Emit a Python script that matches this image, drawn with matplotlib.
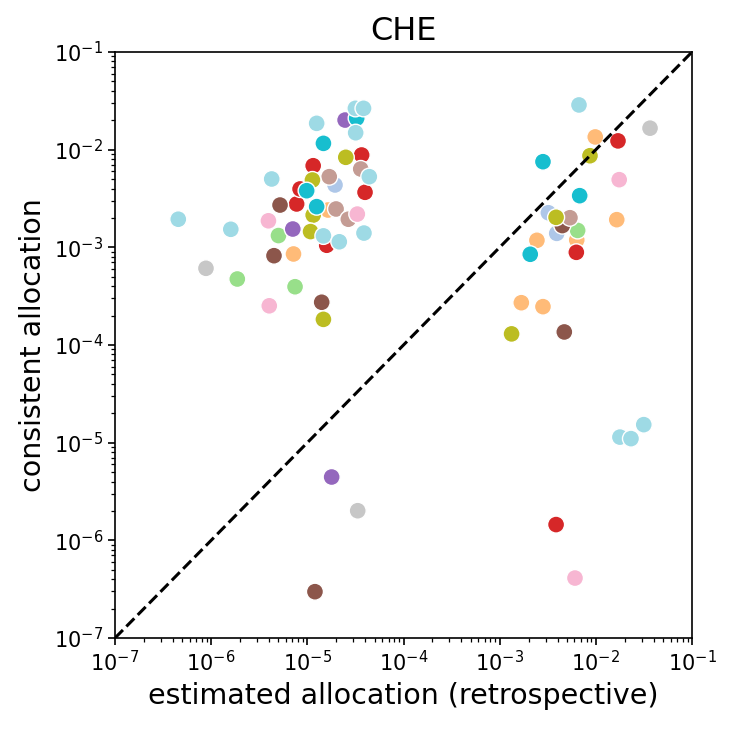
# consistent vs estimated allocation, CHE

import numpy as np
import matplotlib
matplotlib.use("Agg")
import matplotlib.pyplot as plt

# tab20 index per group, then x (estimated) and y (consistent) values
grp = [1, 1, 1,
       3, 3, 3, 3, 3, 3, 3, 3,
       5, 5, 5, 5, 5,
       6, 6, 6, 6, 6, 6, 6, 6, 6,
       8, 8, 8,
       10, 10, 10, 10, 10, 10,
       11, 11, 11, 11, 11,
       13, 13, 13, 13, 13,
       15, 15, 15,
       16, 16, 16, 16, 16, 16, 16, 16,
       18, 18, 18, 18, 18, 18, 18,
       19, 19, 19, 19, 19, 19, 19, 19, 19, 19, 19, 19, 19, 19, 19]

est = [1.94e-5, 3.21e-3, 3.92e-3,
       7.18e-6, 1.64e-5, 9.86e-3, 1.65e-2, 6.33e-3, 2.44e-3, 1.68e-3, 2.82e-3,
       1.87e-6, 7.45e-6, 5.01e-6, 6.47e-3, 0.121,
       7.74e-6, 8.40e-6, 1.15e-5, 1.59e-5, 3.98e-5, 3.67e-5, 1.70e-2, 6.27e-3, 3.86e-3,
       7.06e-6, 2.47e-5, 1.79e-5,
       1.41e-5, 4.50e-6, 5.20e-6, 1.20e-5, 4.48e-3, 4.70e-3,
       1.99e-5, 2.67e-5, 1.69e-5, 3.59e-5, 5.38e-3,
       4.02e-6, 3.94e-6, 3.31e-5, 1.75e-2, 6.07e-3,
       8.83e-7, 3.34e-5, 3.66e-2,
       1.47e-5, 1.13e-5, 1.15e-5, 1.08e-5, 2.51e-5, 8.69e-3, 3.86e-3, 1.33e-3,
       9.84e-6, 1.25e-5, 1.47e-5, 3.26e-5, 2.82e-3, 6.79e-3, 2.08e-3,
       4.55e-7, 1.60e-6, 4.26e-6, 1.47e-5, 2.15e-5, 3.88e-5, 4.41e-5, 1.25e-5,
       3.16e-5, 3.84e-5, 3.18e-5, 6.68e-3, 1.78e-2, 2.32e-2, 3.15e-2]

cons = [4.35e-3, 2.26e-3, 1.39e-3,
        8.55e-4, 2.41e-3, 1.35e-2, 1.92e-3, 1.19e-3, 1.18e-3, 2.71e-4, 2.47e-4,
        4.74e-4, 3.95e-4, 1.32e-3, 1.49e-3, 7.66e-3,
        2.78e-3, 3.96e-3, 6.85e-3, 1.05e-3, 3.66e-3, 8.82e-3, 1.23e-2, 8.89e-4, 1.45e-6,
        1.54e-3, 2.01e-2, 4.45e-6,
        2.74e-4, 8.21e-4, 2.71e-3, 2.98e-7, 1.67e-3, 1.36e-4,
        2.47e-3, 1.94e-3, 5.29e-3, 6.34e-3, 2.01e-3,
        2.52e-4, 1.87e-3, 2.19e-3, 4.93e-3, 4.11e-7,
        6.10e-4, 2.01e-6, 1.66e-2,
        1.83e-4, 4.89e-3, 2.14e-3, 1.45e-3, 8.35e-3, 8.67e-3, 2.03e-3, 1.30e-4,
        3.80e-3, 2.61e-3, 1.16e-2, 2.10e-2, 7.53e-3, 3.38e-3, 8.49e-4,
        1.94e-3, 1.53e-3, 5.01e-3, 1.31e-3, 1.14e-3, 1.40e-3, 5.29e-3, 1.86e-2,
        2.65e-2, 2.65e-2, 1.49e-2, 2.87e-2, 1.14e-5, 1.10e-5, 1.53e-5]

lim = [1e-7, 1e-1]

plt.rcParams.update({
    "xtick.labelsize": 15, "ytick.labelsize": 15,
    "xtick.major.size": 5, "ytick.major.size": 5,
    "xtick.minor.size": 3, "ytick.minor.size": 3,
    "xtick.major.width": 1.2, "ytick.major.width": 1.2,
    "xtick.minor.width": 0.9, "ytick.minor.width": 0.9,
    "axes.linewidth": 1.2,
})

fig = plt.figure(figsize=(7.33, 7.29), dpi=100)
ax = fig.add_axes([115/733, 91/729, 577/733, 586/729])

cmap = plt.get_cmap("tab20")
colors = [cmap(g) for g in grp]
ax.scatter(est, cons, c=colors, s=150, edgecolors="white", linewidths=1.0, zorder=2)
ax.plot(lim, lim, "k--", lw=2.2, zorder=3)

ax.set_xscale("log")
ax.set_yscale("log")
ax.set_xlim(lim)
ax.set_ylim(lim)
ax.set_title("CHE", fontsize=23, pad=9)
ax.set_xlabel("estimated allocation (retrospective)", fontsize=20.5, labelpad=5)
ax.set_ylabel("consistent allocation", fontsize=20.5, labelpad=5)

fig.savefig("out.png", dpi=100)
